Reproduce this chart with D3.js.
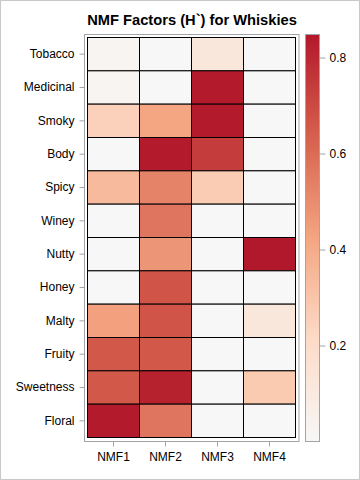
<!DOCTYPE html>
<html><head><meta charset="utf-8">
<script src="https://cdn.jsdelivr.net/npm/d3@7"></script>
<style>body{margin:0;background:#fff}svg{display:block;font-family:"Liberation Sans",Arial,sans-serif}</style>
</head><body><svg id="c" width="360" height="480"></svg>
<script>
const flavors = ["Tobacco","Medicinal","Smoky","Body","Spicy","Winey","Nutty","Honey","Malty","Fruity","Sweetness","Floral"];
const factors = ["NMF1","NMF2","NMF3","NMF4"];
const nmf1 = [0.02,0.02,0.25,0.00,0.34,0.00,0.00,0.00,0.44,0.66,0.66,0.84];
const nmf2 = [0.00,0.00,0.42,0.84,0.53,0.57,0.47,0.67,0.67,0.66,0.82,0.57];
const nmf3 = [0.12,0.84,0.84,0.74,0.27,0.00,0.00,0.00,0.00,0.00,0.00,0.00];
const nmf4 = [0.00,0.00,0.00,0.00,0.00,0.00,0.85,0.00,0.12,0.00,0.28,0.00];
const colorTicks = [0.2,0.4,0.6,0.8];
const rampColors = ["#f7f7f7","#fddbc7","#f4a582","#d6604d","#b2182b"];
const vmin = 0, vmax = 0.848;

const series = [nmf1,nmf2,nmf3,nmf4];
const cells = [];
flavors.forEach((f,i)=>factors.forEach((k,j)=>cells.push({f,k,v:series[j][i]})));

const svg = d3.select("#c");
svg.append("rect").attr("x",0.5).attr("y",0.5).attr("width",359).attr("height",479)
  .attr("fill","#fff").attr("stroke","#c8c8c8");

const x = d3.scaleBand().domain(factors).range([87.5,295.5]);
const y = d3.scaleBand().domain(flavors).range([37.5,437.5]);
const stops = rampColors.map((c,i)=>vmin+(vmax-vmin)*i/(rampColors.length-1));
const color = d3.scaleLinear().domain(stops).range(rampColors).interpolate(d3.interpolateRgb).clamp(true);

svg.append("text").attr("x",192).attr("y",25).attr("text-anchor","middle")
  .attr("font-weight","bold").attr("font-size","14.7px").attr("fill","#000")
  .text("NMF Factors (H`) for Whiskies");

// plot frame
svg.append("rect").attr("x",84.5).attr("y",34.5).attr("width",214.5).attr("height",407)
  .attr("fill","none").attr("stroke","#a0a4a8");

svg.append("g").selectAll("rect").data(cells).join("rect")
  .attr("x",d=>x(d.k)).attr("y",d=>y(d.f))
  .attr("width",x.bandwidth()).attr("height",y.bandwidth())
  .attr("fill",d=>color(d.v)).attr("stroke","#000").attr("stroke-width",1);

const yAxis = svg.append("g").attr("transform","translate(84.5,0)")
  .call(d3.axisLeft(y).tickSize(5).tickPadding(5));
const xAxis = svg.append("g").attr("transform","translate(0,441.5)")
  .call(d3.axisBottom(x).tickSize(5).tickPadding(6));
[yAxis,xAxis].forEach(a=>{
  a.select(".domain").remove();
  a.selectAll(".tick line").attr("stroke","#a0a4a8");
  a.selectAll("text").attr("font-size","12px").attr("fill","#000").attr("font-family","'Liberation Sans',Arial,sans-serif");
});

// colorbar
const cb = d3.scaleLinear().domain([vmin,vmax]).range([441.5,34.5]);
const defs = svg.append("defs");
const grad = defs.append("linearGradient").attr("id","g").attr("x1",0).attr("y1",1).attr("x2",0).attr("y2",0);
grad.selectAll("stop").data(rampColors).join("stop")
  .attr("offset",(d,i)=>i/(rampColors.length-1)).attr("stop-color",d=>d);
svg.append("rect").attr("x",305.5).attr("y",34.5).attr("width",14).attr("height",407)
  .attr("fill","url(#g)").attr("stroke","#a0a4a8");
const cAxis = svg.append("g").attr("transform","translate(319.5,0)")
  .call(d3.axisRight(cb).tickValues(colorTicks).tickFormat(d3.format(".1f")).tickSize(6).tickPadding(4));
cAxis.select(".domain").remove();
cAxis.selectAll(".tick line").attr("stroke","#a0a4a8");
cAxis.selectAll("text").attr("font-size","12px").attr("fill","#000").attr("font-family","'Liberation Sans',Arial,sans-serif");
</script></body></html>
